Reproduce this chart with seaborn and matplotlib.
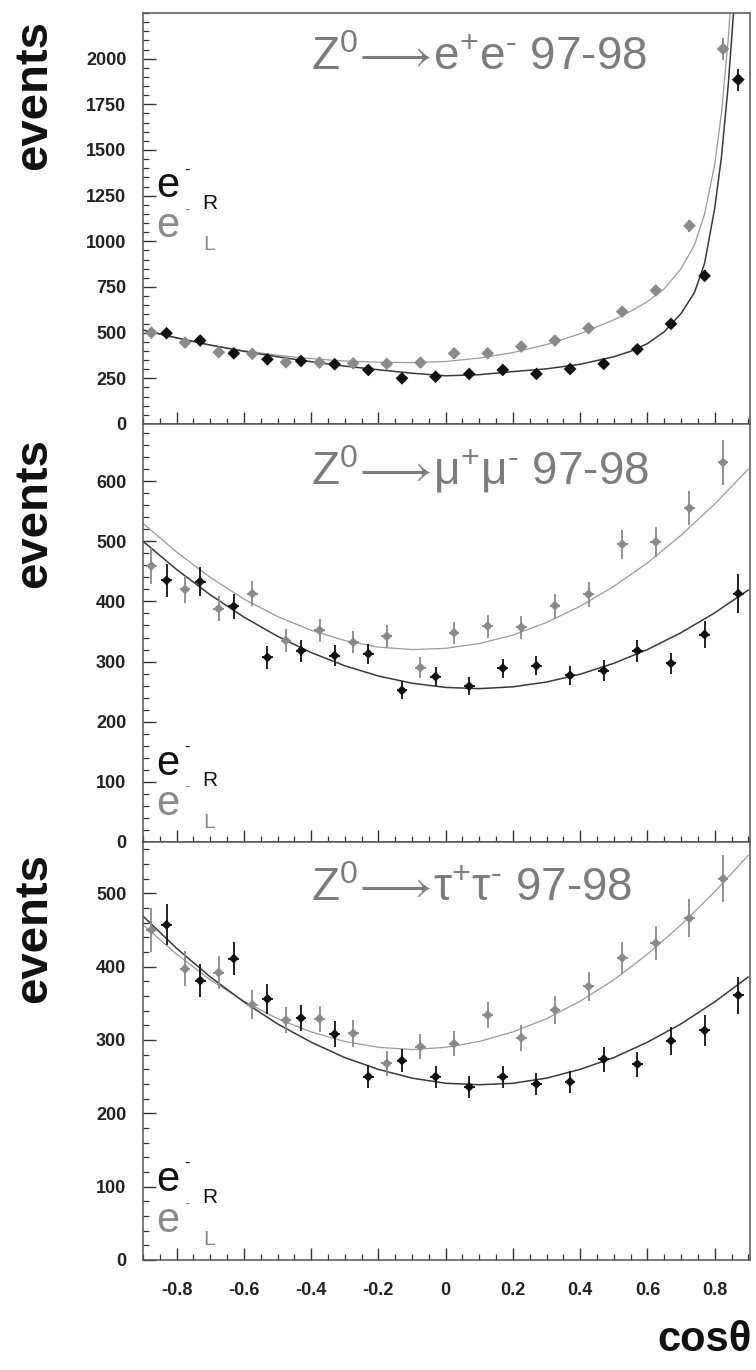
import numpy as np
import pandas as pd
import seaborn as sns
import matplotlib
matplotlib.use("Agg")
from matplotlib import pyplot as plt
from matplotlib.ticker import MultipleLocator, FixedLocator

# bin centres in cos(theta)
cos_bins = [-0.85, -0.75, -0.65, -0.55, -0.45, -0.35, -0.25, -0.15, -0.05,
            0.05, 0.15, 0.25, 0.35, 0.45, 0.55, 0.65, 0.75, 0.85]

# Z0 -> e+e-
ee_R = [497, 457, 387, 354, 345, 327, 296, 250, 259, 274, 296, 274, 301, 329, 409, 548, 811, 1885]
ee_R_err = [20, 19, 18, 17, 17, 16, 16, 15, 15, 15, 16, 15, 16, 17, 19, 22, 30, 60]
ee_L = [500, 446, 393, 384, 338, 336, 332, 329, 336, 387, 387, 424, 457, 524, 615, 731, 1085, 2053]
ee_L_err = [21, 20, 19, 19, 18, 18, 18, 18, 18, 19, 19, 20, 21, 22, 24, 27, 34, 60]

# Z0 -> mu+mu-
mm_R = [435, 433, 392, 307, 318, 310, 313, 252, 275, 259, 289, 293, 277, 285, 318, 297, 345, 413]
mm_R_err = [28, 24, 21, 19, 18, 18, 17, 15, 16, 15, 16, 16, 16, 17, 18, 18, 22, 32]
mm_L = [459, 420, 388, 413, 335, 352, 332, 342, 290, 348, 359, 357, 393, 412, 495, 499, 555, 631]
mm_L_err = [30, 23, 21, 21, 19, 19, 18, 18, 17, 18, 19, 19, 20, 21, 24, 25, 28, 37]

# Z0 -> tau+tau-
tt_R = [457, 381, 411, 356, 330, 308, 250, 272, 250, 236, 250, 240, 243, 274, 267, 299, 313, 361]
tt_R_err = [28, 23, 22, 20, 18, 18, 16, 16, 15, 15, 15, 15, 15, 17, 17, 19, 21, 25]
tt_L = [450, 397, 392, 348, 327, 329, 309, 268, 291, 295, 334, 303, 341, 373, 412, 432, 466, 520]
tt_L_err = [30, 24, 22, 20, 18, 18, 18, 17, 17, 17, 18, 18, 19, 20, 22, 23, 26, 32]

# fitted curves
fit_grid = [-0.9, -0.8, -0.7, -0.6, -0.5, -0.4, -0.3, -0.2, -0.1, 0.0,
            0.1, 0.2, 0.3, 0.4, 0.5, 0.6, 0.7, 0.8, 0.9]
mm_fit_R = [500, 453, 411, 374, 342, 315, 293, 276, 264, 257, 255, 258, 266, 279, 297, 320, 348, 381, 419]
mm_fit_L = [530, 482, 440, 404, 375, 352, 335, 324, 320, 322, 330, 344, 365, 392, 425, 464, 510, 562, 620]
tt_fit_R = [469, 425, 386, 352, 322, 297, 276, 260, 248, 241, 239, 241, 248, 260, 276, 297, 322, 352, 386]
tt_fit_L = [457, 417, 382, 353, 329, 311, 298, 290, 287, 290, 298, 311, 329, 353, 382, 417, 457, 502, 552]

ee_fit_x_R = [-0.9, -0.8, -0.7, -0.6, -0.5, -0.4, -0.3, -0.2, -0.1, 0.0, 0.1, 0.2, 0.3,
              0.4, 0.5, 0.55, 0.6, 0.65, 0.7, 0.74, 0.77, 0.8, 0.82, 0.84, 0.86]
ee_fit_R = [515, 472, 432, 398, 368, 341, 317, 297, 278, 264, 270, 287, 302,
            327, 368, 398, 440, 505, 605, 720, 880, 1180, 1460, 1850, 2350]
ee_fit_x_L = [-0.9, -0.8, -0.7, -0.6, -0.5, -0.4, -0.3, -0.2, -0.1, 0.0, 0.1, 0.2, 0.3,
              0.4, 0.5, 0.55, 0.6, 0.65, 0.7, 0.74, 0.77, 0.8, 0.82, 0.84, 0.855]
ee_fit_L = [512, 470, 432, 401, 376, 358, 345, 338, 336, 342, 361, 391, 435,
            494, 570, 617, 670, 740, 850, 980, 1150, 1420, 1700, 2100, 2500]

titles = [r"Z$^{0}\!\longrightarrow\!$e$^{+}$e$^{\text{-}}$ 97-98",
          r"Z$^{0}\!\longrightarrow\!$μ$^{+}$μ$^{\text{-}}$ 97-98",
          r"Z$^{0}\!\longrightarrow\!$τ$^{+}$τ$^{\text{-}}$ 97-98"]
y_ticks = [[0, 250, 500, 750, 1000, 1250, 1500, 1750, 2000],
           [0, 100, 200, 300, 400, 500, 600],
           [0, 100, 200, 300, 400, 500]]
x_ticks = [-0.8, -0.6, -0.4, -0.2, 0, 0.2, 0.4, 0.6, 0.8]
x_tick_labels = ["-0.8", "-0.6", "-0.4", "-0.2", "0", "0.2", "0.4", "0.6", "0.8"]

BLACK = "#111111"
GRAY = "#8a8a8a"
TXT_GRAY = "#7c7c7c"

sns.set_theme(style="ticks")
plt.rcParams["font.family"] = ["Liberation Sans", "DejaVu Sans"]
plt.rcParams["mathtext.fontset"] = "custom"
plt.rcParams["mathtext.rm"] = "Liberation Sans"
plt.rcParams["mathtext.it"] = "Liberation Sans:italic"
plt.rcParams["mathtext.bf"] = "Liberation Sans:bold"


def draw_panel(ax, r, r_err, l, l_err, fx_r, fr, fx_l, fl, big=False):
    x = np.array(cos_bins)
    sns.lineplot(x=fx_l, y=fl, ax=ax, color="#9a9a9a", lw=0.9, zorder=2)
    sns.lineplot(x=fx_r, y=fr, ax=ax, color="#3a3a3a", lw=1.1, zorder=2)
    xbar = 0.0 if big else 0.016
    ax.errorbar(x - 0.025, l, yerr=l_err, xerr=xbar, fmt="none", ecolor=GRAY,
                elinewidth=1.3, capsize=0, zorder=3)
    ax.errorbar(x + 0.02, r, yerr=r_err, xerr=xbar, fmt="none", ecolor=BLACK,
                elinewidth=1.3, capsize=0, zorder=4)
    size = 42 if big else 26
    sns.scatterplot(x=x - 0.025, y=l, ax=ax, marker="D", s=size, color=GRAY,
                    edgecolor="none", zorder=5)
    sns.scatterplot(x=x + 0.02, y=r, ax=ax, marker="D", s=size, color=BLACK,
                    edgecolor="none", zorder=6)


def label_block(ax, y0):
    ax.text(0.022, y0, "e", transform=ax.transAxes, fontsize=30, color=BLACK)
    ax.text(0.068, y0 + 0.055, "-", transform=ax.transAxes, fontsize=12, color=BLACK)
    ax.text(0.097, y0 - 0.028, "R", transform=ax.transAxes, fontsize=15, color=BLACK)
    ax.text(0.022, y0 - 0.097, "e", transform=ax.transAxes, fontsize=30, color=GRAY)
    ax.text(0.068, y0 - 0.042, "-", transform=ax.transAxes, fontsize=12, color=GRAY)
    ax.text(0.099, y0 - 0.128, "L", transform=ax.transAxes, fontsize=15, color=GRAY)


fig = plt.figure(figsize=(7.56, 13.7), dpi=100)
fig.patch.set_facecolor("white")

left, width = 143 / 756, 607 / 756
ax1 = fig.add_axes([left, 1 - 424 / 1370, width, 411 / 1370])
ax2 = fig.add_axes([left, 1 - 842 / 1370, width, 418 / 1370], sharex=ax1)
ax3 = fig.add_axes([left, 1 - 1260 / 1370, width, 418 / 1370], sharex=ax1)
axes = [ax1, ax2, ax3]

draw_panel(ax1, ee_R, ee_R_err, ee_L, ee_L_err, ee_fit_x_R, ee_fit_R, ee_fit_x_L, ee_fit_L, big=True)
draw_panel(ax2, mm_R, mm_R_err, mm_L, mm_L_err, fit_grid, mm_fit_R, fit_grid, mm_fit_L)
draw_panel(ax3, tt_R, tt_R_err, tt_L, tt_L_err, fit_grid, tt_fit_R, fit_grid, tt_fit_L)

ylims = [2250, 695, 570]
minors = [50, 20, 20]
label_y = [0.552, 0.161, 0.165]
title_y = [0.861, 0.856, 0.86]
events_y = [1 - 95 / 1370, 1 - 513 / 1370, 1 - 928 / 1370]

for i, ax in enumerate(axes):
    ax.set_facecolor("white")
    ax.set_xlim(-0.9, 0.905)
    ax.set_ylim(0, ylims[i])
    ax.yaxis.set_major_locator(FixedLocator(y_ticks[i]))
    ax.yaxis.set_minor_locator(MultipleLocator(minors[i]))
    ax.xaxis.set_major_locator(FixedLocator(x_ticks))
    ax.xaxis.set_minor_locator(MultipleLocator(0.05))
    ax.tick_params(which="both", direction="in", left=True, bottom=True,
                   right=False, top=False, colors="#333333")
    ax.tick_params(which="major", length=9, width=1.0)
    ax.tick_params(which="minor", length=4.5, width=0.9)
    ax.tick_params(axis="y", labelsize=13, pad=12)
    ax.tick_params(axis="x", labelsize=13, pad=16)
    for sp in ax.spines.values():
        sp.set_visible(True)
        sp.set_color("#555555")
        sp.set_linewidth(1.1)
    ax.set_xlabel("")
    ax.set_ylabel("")
    ax.text(0.276, title_y[i], titles[i], transform=ax.transAxes, fontsize=33,
            color=TXT_GRAY, ha="left", va="baseline")
    label_block(ax, label_y[i])
    fig.text(0.045, events_y[i], "events", rotation=90, fontsize=34,
             fontweight="bold", ha="center", va="center", color=BLACK)
    if i < 2:
        ax.tick_params(axis="x", labelbottom=False)

ax3.set_xticklabels(x_tick_labels)
for ax in axes:
    for lab in ax.get_yticklabels() + ax.get_xticklabels():
        lab.set_fontweight("bold")
        lab.set_color("#222222")

fig.text(0.995, 1 - 1340 / 1370, "cosθ", fontsize=30, fontweight="bold",
         ha="right", va="center", color=BLACK)

fig.savefig("out.png", dpi=100)
